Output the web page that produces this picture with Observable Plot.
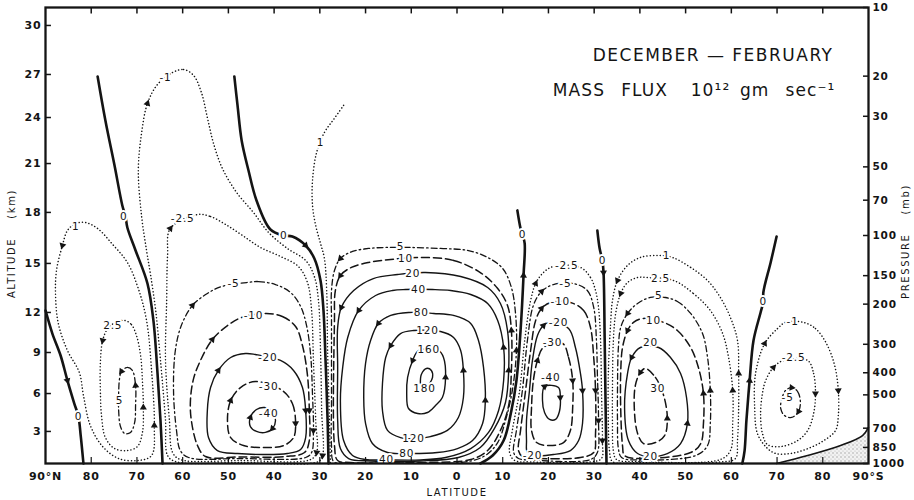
<!DOCTYPE html>
<html><head><meta charset="utf-8">
<script src="https://cdn.jsdelivr.net/npm/d3@7"></script>
<script src="https://cdn.jsdelivr.net/npm/@observablehq/plot@0.6"></script>
<style>
body{margin:0;background:#fff;}
#chart svg text{letter-spacing:0.8px;}
</style>
</head><body><div id="chart"></div>
<script>
// ---- axes ----
const latTicks = [90,80,70,60,50,40,30,20,10,0,-10,-20,-30,-40,-50,-60,-70,-80,-90];
const latTickLabels = ["90°N","80","70","60","50","40","30","20","10","0","10","20","30","40","50","60","70","80","90°S"];
const altTicks = [3,6,9,12,15,18,21,24,27,30];
// where each altitude tick sits on the chart's log-pressure height axis (km)
const altTickZ = [2.25,4.91,7.79,10.60,14.04,17.62,21.05,24.28,27.30,30.74];
const pressureTicks = [10,20,30,50,70,100,150,200,300,400,500,700,850,1000];

// ---- streamfunction isolines, points are [latitude (+N), log-pressure height km] ----
const zeroLines = [
  [[90,10.74],[88.5,9.12],[86.7,7.58],[85.2,5.82],[83.7,4.21],[82.8,3.30],[82.3,1.96],[81.7,0]],
  [[78.6,27.16],[76.9,24.07],[74.9,20.91],[73.2,18.11],[72.5,17.34],[72.1,16.56],[70.3,14.95],[67.7,12.63],[66.4,10.04],[65.5,6.32],[64.85,3.02],[64.4,0]],
  [[48.7,27.16],[48.0,25.13],[47.1,22.67],[45.6,20.56],[43.85,18.46],[40.8,16.42],[37.9,16.0],[36.0,15.93],[33.1,15.30],[31.2,14.39],[29.85,12.84],[29.2,10.74],[28.75,7.23],[28.3,3.02],[28.1,0]],
  [[-13.2,17.76],[-13.9,16.49],[-14.3,16.07],[-14.8,15.44],[-14.55,13.19],[-13.9,9.33],[-13.0,5.82],[-11.9,3.72],[-10.2,1.61],[-7.8,0.56],[-5.1,0]],
  [[-30.7,16.35],[-31.2,15.09],[-31.8,14.25],[-32.05,13.40],[-32.3,8.63],[-32.5,4.07],[-32.7,0]],
  [[-69.9,15.93],[-68.6,14.11],[-67.0,12.0],[-67.0,11.37],[-66.4,10.60],[-64.85,8.63],[-64.0,5.82],[-63.3,3.02],[-62.9,0.91],[-62.4,0]]
];
// flow arrows on the zero lines: which line, which point, +1 along point order / -1 against
const zeroArrows = [{line:0,i:3,sense:1},{line:2,i:8,sense:1},{line:3,i:4,sense:-1},{line:4,i:3,sense:1},{line:5,i:6,sense:-1}];

const cellArctic = [
  {v:1, pts:[[85.2,16.35],[86.3,15.30],[87.6,13.54],[87.8,11.79],[87.2,9.83],[85.2,7.93],[82.6,6.39],[81.7,4.77],[80.2,2.67],[77.5,1.19],[74.0,0.35],[69.7,0.21],[66.8,0.56],[66.2,2.67],[66.8,6.53],[67.9,10.04],[69.7,12.28],[72.1,14.11],[75.3,15.37],[78.6,16.49],[81.25,16.91],[83.4,16.84]]},
  {v:2.5, pts:[[72.7,10.04],[71.2,9.75],[70.1,8.98],[69.2,7.58],[68.8,5.82],[68.6,3.93],[68.8,2.18],[69.9,1.19],[72.1,0.91],[74.9,1.05],[76.9,1.82],[77.75,3.37],[78.0,5.12],[78.0,7.09],[77.5,8.63],[76.4,9.47],[74.7,9.90]]},
  {v:5, pts:[[73.4,6.46],[72.1,6.74],[71.0,6.53],[70.3,5.47],[70.3,4.07],[70.5,2.88],[71.4,2.18],[72.7,2.11],[73.6,2.60],[74.0,3.72],[74.0,4.98],[73.8,5.97]]}
];

const cellNorth = [
  {v:-1, pts:[[62.2,27.44],[59.8,27.65],[57.6,27.23],[55.9,26.04],[54.6,24.28],[53.25,22.46],[51.3,20.70],[48.2,19.02],[44.5,17.61],[41.2,16.21],[37.1,15.09],[33.1,14.25],[31.2,13.12],[30.3,11.44],[29.85,7.93],[29.6,3.72],[29.4,0.56],[30.3,0.14],[47.35,0.07],[61.6,0.14],[63.3,0.56],[63.75,3.02],[64.85,7.23],[65.9,10.74],[67.0,13.19],[67.9,14.95],[69.0,17.40],[69.7,20.56],[69.0,23.16],[67.7,25.27],[65.5,26.60]]},
  {v:-2.5, pts:[[56.75,17.47],[53.9,17.33],[50.6,16.77],[46.9,16.00],[43.0,15.16],[38.6,14.53],[34.7,13.83],[32.7,12.70],[31.8,10.74],[31.4,7.23],[30.9,3.02],[30.7,0.77],[32.0,0.28],[47.35,0.21],[60.5,0.28],[62.2,0.77],[62.9,3.02],[63.75,7.23],[63.5,11.44],[63.3,14.60],[62.7,16.49]]},
  {v:-5, pts:[[46.0,12.70],[43.4,12.77],[39.7,12.56],[36.4,12.00],[34.2,11.02],[32.9,9.68],[32.0,7.58],[31.6,4.77],[31.4,2.32],[31.8,0.77],[33.1,0.42],[47.35,0.35],[58.7,0.42],[60.5,0.91],[61.35,2.32],[62.0,5.12],[61.6,7.93],[60.3,9.68],[57.85,11.09],[54.6,11.93],[51.5,12.42]]},
  {v:-10, pts:[[41.7,10.53],[38.2,10.32],[35.3,9.61],[33.8,8.28],[32.7,6.18],[32.3,3.72],[32.3,1.61],[33.35,0.77],[37.5,0.49],[47.35,0.46],[55.0,0.49],[56.75,1.26],[58.1,3.02],[58.3,4.42],[57.6,5.97],[55.9,7.37],[53.5,8.70],[50.2,9.68],[47.1,10.25]]},
  {v:-20, pts:[[38.6,7.23],[35.75,6.53],[33.8,5.33],[33.1,3.72],[33.1,1.82],[34.2,0.98],[37.1,0.70],[42.3,0.63],[48.0,0.70],[52.4,0.91],[54.35,1.82],[54.6,3.72],[53.9,5.33],[52.2,6.53],[49.5,7.44],[46.25,7.72],[44.1,7.65]]},
  {v:-30, pts:[[38.2,5.12],[36.0,4.21],[35.3,2.81],[35.75,1.82],[37.9,1.26],[42.3,1.12],[46.7,1.26],[49.5,1.82],[50.2,3.02],[49.5,4.42],[47.35,5.33],[44.1,5.75]]},
  {v:-40, pts:[[39.7,3.02],[40.35,2.46],[41.9,2.18],[43.85,2.25],[45.2,2.60],[45.2,3.23],[43.85,3.79],[42.1,3.93],[40.6,3.72]]}
];

const cellHadley = [
  {v:1, open:true, pts:[[24.8,25.13],[27.0,24.14],[29.0,23.23],[30.7,21.83],[31.6,19.86],[31.6,18.11],[30.9,16.70],[29.85,15.44],[29.0,14.39],[28.5,12.14],[28.3,7.93],[27.9,3.02],[27.7,0.07]]},
  {v:5, pts:[[10.2,15.16],[3.6,15.09],[-2.3,14.95],[-6.7,14.46],[-10.0,13.68],[-11.9,12.35],[-12.8,10.53],[-13.0,7.93],[-12.1,5.12],[-10.6,3.02],[-8.9,1.47],[-6.2,0.56],[-1.9,0.11],[12.35,0.04],[24.4,0.04],[27.0,0.14],[27.45,1.26],[27.45,4.42],[27.45,10.04],[27.45,12.14],[26.8,13.54],[25.5,14.39],[22.85,14.88],[19.35,15.09],[15.6,15.16]]},
  {v:10, pts:[[8.0,14.46],[0.75,14.25],[-5.1,13.40],[-8.9,12.28],[-11.05,11.09],[-11.9,9.33],[-11.9,6.53],[-11.3,4.07],[-9.5,2.32],[-6.7,0.91],[-3.0,0.28],[8.0,0.07],[23.3,0.07],[26.1,0.21],[26.8,1.26],[26.8,10.04],[26.6,12.14],[25.5,13.19],[23.1,13.76],[19.35,14.11],[14.5,14.32]]},
  {v:20, pts:[[6.9,13.40],[-0.8,13.12],[-6.7,12.35],[-9.5,11.23],[-11.05,9.33],[-11.3,6.53],[-10.6,4.28],[-8.2,2.46],[-5.1,1.12],[-0.3,0.42],[8.0,0.18],[18.9,0.18],[23.7,0.35],[25.5,1.05],[26.1,3.02],[26.1,6.74],[26.1,9.54],[25.3,10.95],[22.6,12.14],[18.3,12.98],[13.0,13.26]]},
  {v:40, pts:[[5.35,12.21],[1.4,12.14],[-3.0,11.86],[-6.7,11.23],[-8.9,10.04],[-10.2,8.14],[-10.2,5.82],[-9.1,3.72],[-6.9,2.18],[-3.0,1.05],[2.5,0.42],[8.0,0.25],[15.4,0.25],[20.0,0.28],[22.85,0.56],[24.8,1.61],[25.5,4.42],[25.0,6.74],[23.9,8.84],[21.5,10.74],[17.8,11.79],[14.1,12.14],[11.25,12.21]]},
  {v:80, pts:[[5.1,10.53],[0.75,10.39],[-3.0,9.83],[-4.7,8.63],[-5.8,6.74],[-6.2,4.42],[-5.6,2.81],[-3.4,1.61],[-0.1,1.05],[4.3,0.77],[11.0,0.70],[15.2,0.77],[18.5,1.40],[20.0,2.81],[20.4,4.63],[20.0,7.02],[18.9,8.63],[17.2,9.83],[14.5,10.39],[10.6,10.60]]},
  {v:120, pts:[[3.6,9.26],[0.75,8.84],[-0.8,7.93],[-1.4,6.53],[-1.4,4.63],[-0.3,3.23],[2.1,2.32],[5.8,1.89],[9.5,1.75],[12.35,1.82],[15.2,2.32],[16.3,3.72],[16.3,5.61],[15.6,7.44],[14.5,8.28],[12.35,9.12],[9.5,9.33]]},
  {v:160, pts:[[4.05,7.93],[2.95,7.44],[2.5,6.04],[3.2,4.63],[4.7,4.07],[6.45,3.58],[8.6,3.51],[10.6,3.86],[11.0,4.91],[10.8,6.04],[9.7,7.23],[8.4,7.93]]},
  {v:180, open:true, pts:[[8.0,5.61],[7.8,6.25],[6.7,6.67],[5.6,6.53],[5.35,6.04],[6.0,5.61]]}
];

const cellSouthTropic = [
  {v:-2.5, pts:[[-27.0,13.76],[-29.2,13.05],[-30.3,12.14],[-30.95,10.95],[-31.4,8.63],[-31.6,5.12],[-31.8,1.61],[-31.6,0.35],[-29.2,0.11],[-16.1,0.11],[-12.6,0.21],[-11.5,0.77],[-12.1,2.32],[-13.7,5.12],[-14.8,8.63],[-16.1,11.44],[-17.2,12.63],[-18.9,13.40],[-21.1,13.83]]},
  {v:-5, pts:[[-25.5,12.63],[-28.5,12.14],[-29.9,10.95],[-30.5,8.63],[-30.7,6.32],[-30.95,3.02],[-30.7,0.77],[-29.2,0.28],[-16.1,0.25],[-13.45,0.35],[-12.4,0.77],[-13.0,2.32],[-14.3,5.12],[-15.4,8.63],[-16.7,11.09],[-18.5,12.07],[-21.1,12.56]]},
  {v:-10, pts:[[-24.8,11.30],[-27.7,10.74],[-29.2,9.54],[-29.9,7.44],[-30.3,5.12],[-30.3,2.11],[-29.9,0.77],[-27.0,0.42],[-16.1,0.39],[-14.3,0.49],[-13.45,0.91],[-13.9,2.32],[-15.0,5.12],[-16.1,7.93],[-17.2,10.04],[-18.5,10.88],[-20.5,11.30]]},
  {v:-20, pts:[[-24.4,9.47],[-25.9,8.14],[-27.0,6.32],[-27.45,5.12],[-27.45,2.81],[-26.6,1.61],[-24.8,0.91],[-21.1,0.63],[-17.2,0.56],[-15.4,0.77],[-15.2,1.61],[-15.2,3.02],[-15.85,5.12],[-16.5,7.23],[-17.6,8.98],[-18.9,9.68],[-20.25,9.90]]},
  {v:-30, pts:[[-23.1,8.42],[-24.4,7.44],[-25.3,5.82],[-25.3,3.93],[-24.8,2.32],[-23.3,1.47],[-19.8,1.26],[-17.4,1.47],[-16.3,2.32],[-16.3,3.93],[-16.7,5.82],[-17.6,7.23],[-18.9,8.14]]},
  {v:-40, pts:[[-19.15,5.40],[-18.7,4.42],[-19.15,3.58],[-20.25,3.09],[-21.55,3.09],[-22.4,3.65],[-22.6,4.63],[-22.2,5.33]]}
];

const cellSouthFerrel = [
  {v:1, pts:[[-47.1,14.46],[-51.1,13.76],[-54.8,12.84],[-57.6,11.65],[-59.8,10.25],[-61.35,8.63],[-61.6,6.32],[-61.6,3.93],[-61.35,1.61],[-60.9,0.35],[-57.6,0.11],[-40.1,0.07],[-34.0,0.14],[-33.35,0.91],[-33.1,2.81],[-33.1,6.32],[-33.6,9.83],[-34.0,11.44],[-35.1,12.84],[-37.3,13.90],[-40.1,14.46],[-44.1,14.60]]},
  {v:2.5, pts:[[-47.4,12.84],[-51.7,11.93],[-55.4,10.74],[-58.1,9.12],[-59.4,7.44],[-60.3,5.12],[-60.3,2.81],[-59.8,0.91],[-57.6,0.28],[-40.1,0.14],[-34.9,0.28],[-34.2,0.91],[-34.0,3.02],[-34.0,5.12],[-34.2,8.63],[-34.7,10.53],[-35.8,11.93],[-37.3,12.70],[-39.5,13.05],[-41.9,13.05]]},
  {v:5, pts:[[-45.6,11.65],[-48.2,11.37],[-51.1,10.53],[-53.7,9.12],[-54.8,7.44],[-55.4,5.12],[-55.4,2.81],[-54.8,1.26],[-52.2,0.56],[-40.1,0.25],[-36.0,0.42],[-35.3,1.05],[-35.1,3.02],[-35.1,5.12],[-35.3,8.14],[-35.8,9.54],[-37.3,10.53],[-39.5,11.23],[-42.3,11.65]]},
  {v:10, pts:[[-45.2,9.90],[-48.2,9.33],[-51.1,8.14],[-52.8,6.74],[-53.9,4.91],[-53.9,2.81],[-53.3,1.40],[-51.1,0.77],[-40.1,0.35],[-36.65,0.56],[-36.2,1.26],[-35.8,3.93],[-35.8,6.32],[-36.2,8.14],[-37.3,9.33],[-38.6,9.90],[-40.8,10.18]]},
  {v:20, pts:[[-44.1,8.14],[-46.7,7.44],[-48.9,6.32],[-50.2,4.63],[-50.4,2.81],[-48.9,1.40],[-46.0,0.70],[-42.3,0.49],[-39.5,0.70],[-37.5,1.61],[-36.65,3.93],[-37.3,6.32],[-38.2,7.44],[-40.1,8.14]]},
  {v:30, pts:[[-41.2,6.67],[-43.4,6.04],[-45.2,4.77],[-46.0,3.16],[-45.4,1.96],[-43.4,1.47],[-40.8,1.40],[-39.5,2.11],[-38.8,3.72],[-39.0,5.47],[-40.1,6.39]]}
];

const cellAntarctic = [
  {v:-1, pts:[[-75.8,9.90],[-78.4,9.47],[-80.8,8.42],[-82.6,6.88],[-83.4,5.12],[-83.4,3.37],[-82.8,2.32],[-79.9,1.54],[-76.2,0.98],[-72.9,0.70],[-69.7,0.70],[-67.7,1.12],[-65.7,2.11],[-65.1,3.93],[-65.3,6.32],[-67.3,8.42],[-70.1,9.47],[-71.85,9.90]]},
  {v:-2.5, pts:[[-76.7,7.23],[-78.0,6.32],[-78.4,4.91],[-78.0,3.51],[-76.7,2.32],[-74.5,1.61],[-70.8,1.19],[-67.9,1.33],[-66.8,2.11],[-66.4,3.51],[-66.8,4.91],[-67.5,5.82],[-69.2,6.74],[-71.4,7.23]]},
  {v:-5, pts:[[-73.2,5.33],[-74.5,5.05],[-75.1,4.35],[-74.7,3.65],[-73.2,3.23],[-71.6,3.37],[-70.8,3.86],[-71.0,4.49],[-71.85,5.12]]}
];

// Antarctic surface (ground below is stippled)
const antarcticSurface = [[-69.9,0.0],[-76.7,0.56],[-83.9,1.26],[-88.7,1.96],[-90,2.53]];

// isoline labels as placed on the figure
const contourLabels = [
  {t:"0",lat:82.8,z:3.30},{t:"1",lat:83.4,z:16.63},{t:"2.5",lat:75.3,z:9.68},{t:"5",lat:73.8,z:4.42},
  {t:"0",lat:72.9,z:17.33},
  {t:"-1",lat:63.75,z:27.09},{t:"-2.5",lat:60.0,z:17.19},{t:"-5",lat:48.9,z:12.63},{t:"-10",lat:44.5,z:10.39},{t:"-20",lat:41.4,z:7.44},{t:"-30",lat:41.2,z:5.40},{t:"-40",lat:41.2,z:3.51},
  {t:"0",lat:37.9,z:16.0},
  {t:"1",lat:29.85,z:22.53},{t:"5",lat:12.35,z:15.23},{t:"10",lat:11.25,z:14.39},{t:"20",lat:9.7,z:13.33},{t:"40",lat:8.4,z:12.21},{t:"80",lat:7.8,z:10.60},{t:"120",lat:6.45,z:9.33},{t:"160",lat:6.2,z:8.00},{t:"180",lat:7.1,z:5.26},{t:"120",lat:9.5,z:1.75},{t:"80",lat:11.0,z:0.70},{t:"40",lat:15.4,z:0.25},
  {t:"0",lat:-14.3,z:16.07},
  {t:"-2.5",lat:-24.0,z:13.90},{t:"-5",lat:-23.7,z:12.63},{t:"-10",lat:-22.6,z:11.37},{t:"-20",lat:-22.2,z:9.90},{t:"-30",lat:-20.9,z:8.49},{t:"-40",lat:-20.5,z:6.04},{t:"-20",lat:-16.5,z:0.56},
  {t:"0",lat:-31.8,z:14.25},
  {t:"1",lat:-45.8,z:14.60},{t:"2.5",lat:-44.5,z:12.98},{t:"5",lat:-44.1,z:11.79},{t:"10",lat:-43.0,z:10.04},{t:"20",lat:-42.3,z:8.49},{t:"30",lat:-43.9,z:5.26},{t:"20",lat:-42.3,z:0.49},
  {t:"0",lat:-67.0,z:11.37},
  {t:"-1",lat:-73.4,z:9.97},{t:"-2.5",lat:-73.6,z:7.44},{t:"-5",lat:-72.3,z:4.63}
];

// ---- build ----
const ink = "#141414";
const ZP = p => 16 * Math.log10(1000 / p); // pressure -> log-pressure height used by the vertical axis
const pressureZ = pressureTicks.map(ZP);
const pLabel = new Map(pressureZ.map((z, i) => [z, String(pressureTicks[i])]));
const altLabel = new Map(altTickZ.map((z, i) => [z, String(altTicks[i])]));
const latLabel = new Map(latTicks.map((l, i) => [l, latTickLabels[i]]));

function lineStyle(v) {
  const a = Math.abs(v);
  if (a === 0) return {strokeWidth: 2.6};
  if (a <= 2.5) return {strokeWidth: 1.5, strokeDasharray: "0.1 3.2", strokeLinecap: "round"};
  if (a === 5) return {strokeWidth: 1.3, strokeDasharray: "6 3 1.5 3"};
  if (a === 10 || a === 30) return {strokeWidth: 1.5, strokeDasharray: "8 4"};
  return {strokeWidth: 1.4};
}
const X = d => d[0], Y = d => d[1];
const cells = [cellArctic, cellNorth, cellHadley, cellSouthTropic, cellSouthFerrel, cellAntarctic].flat();

const base = {
  width: 914, height: 500,
  marginLeft: 45, marginRight: 46, marginTop: 7, marginBottom: 37,
  x: {domain: [90, -90]},
  y: {domain: [0, 32]},
  style: {fontFamily: "DejaVu Sans", fontSize: "11px", color: ink, background: "#fff", overflow: "visible", whiteSpace: "pre"}
};

// first pass only to obtain the chart's own scales (for arrow directions)
const probe = Plot.plot({...base, marks: [Plot.frame()]});
const sxObj = probe.scale("x"), syObj = probe.scale("y");
const sx = sxObj.apply ? v => sxObj.apply(v) : d3.scaleLinear(sxObj.domain, sxObj.range);
const sy = syObj.apply ? v => syObj.apply(v) : d3.scaleLinear(syObj.domain, syObj.range);

const labelPx = contourLabels.map(l => [sx(l.lat), sy(l.z)]);
const nearLabel = ([x, y]) => labelPx.some(([lx, ly]) => Math.abs(lx - x) < 13 && Math.abs(ly - y) < 9);

const arrows = [];
const angleOf = (a, b, s) => Math.atan2((b[0] - a[0]) * s, -(b[1] - a[1]) * s) * 180 / Math.PI;
for (const c of cells) {
  if (c.open) continue;
  const P = c.pts.map(([la, z]) => [sx(la), sy(z)]);
  const n = P.length;
  let A = 0;
  for (let i = 0; i < n; i++) { const [x1, y1] = P[i], [x2, y2] = P[(i + 1) % n]; A += x1 * y2 - x2 * y1; }
  // positive cells turn anticlockwise on the page, negative cells clockwise
  const s = ((A > 0) === (c.v < 0)) ? 1 : -1;
  const pick = f => { let best = -1; for (let i = 0; i < n; i++) if (!nearLabel(P[i]) && (best < 0 || f(P[i]) > f(P[best]))) best = i; return best; };
  for (const i of [pick(([x, y]) => -x - 0.6 * y), pick(([x]) => x)]) {
    if (i < 0) continue;
    arrows.push({lat: c.pts[i][0], z: c.pts[i][1], angle: angleOf(P[(i - 1 + n) % n], P[(i + 1) % n], s)});
  }
}
for (const za of zeroArrows) {
  const L = zeroLines[za.line], P = L.map(([la, z]) => [sx(la), sy(z)]);
  arrows.push({lat: L[za.i][0], z: L[za.i][1], angle: angleOf(P[za.i - 1], P[za.i + 1], za.sense)});
}

const isoMarks = cells.map(c => Plot.line(c.pts, {x: X, y: Y, curve: c.open ? "catmull-rom" : "catmull-rom-closed", stroke: ink, ...lineStyle(c.v)}));
const zeroMarks = zeroLines.map(pts => Plot.line(pts, {x: X, y: Y, curve: "catmull-rom", stroke: ink, ...lineStyle(0)}));
const innerLat = latTicks.slice(1, -1);

const chart = Plot.plot({
  ...base,
  marks: [
    Plot.areaY(antarcticSurface, {x: X, y: Y, fill: "url(#stipple)", curve: "catmull-rom"}),
    ...isoMarks,
    ...zeroMarks,
    Plot.line(antarcticSurface, {x: X, y: Y, stroke: ink, strokeWidth: 1.6, curve: "catmull-rom"}),
    Plot.dot(arrows, {x: "lat", y: "z", rotate: "angle", symbol: "triangle", r: 2.6, fill: ink, stroke: "none"}),
    Plot.text(contourLabels, {x: "lat", y: "z", text: "t", fill: ink, stroke: "#fff", strokeWidth: 4, fontSize: 10.5}),
    // inward ticks
    Plot.ruleY(altTickZ, {y: d => d, x1: 90, x2: 88.7, stroke: ink, strokeWidth: 1.5}),
    Plot.ruleY(pressureZ, {y: d => d, x1: -90, x2: -88.9, stroke: ink, strokeWidth: 1.5}),
    Plot.ruleX(innerLat, {x: d => d, y1: 32, y2: 31.55, stroke: ink, strokeWidth: 1.5}),
    Plot.ruleX(innerLat, {x: d => d, y1: 0, y2: 0.42, stroke: ink, strokeWidth: 1.2}),
    Plot.frame({stroke: ink, strokeWidth: 2.3}),
    Plot.axisX({ticks: latTicks, tickFormat: d => latLabel.get(d), tickSize: 0, tickPadding: 9, label: null, fontSize: 11, fontWeight: "bold"}),
    Plot.axisY({anchor: "left", ticks: altTickZ, tickFormat: d => altLabel.get(d), tickSize: 0, tickPadding: 4, label: null, fontSize: 11, fontWeight: "bold"}),
    Plot.axisY({anchor: "right", ticks: pressureZ, tickFormat: d => pLabel.get(d), tickSize: 0, tickPadding: 4, label: null, fontSize: 10.5, fontWeight: "bold"}),
    Plot.text(["LATITUDE"], {frameAnchor: "bottom", dy: 29, lineAnchor: "middle", text: d => d, fontSize: 10, fill: ink}),
    Plot.text(["ALTITUDE    (km)"], {frameAnchor: "left", dx: -34, dy: 8, rotate: -90, textAnchor: "middle", text: d => d, fontSize: 10, fill: ink}),
    Plot.text(["PRESSURE    (mb)"], {frameAnchor: "right", dx: 37, dy: 6, rotate: -90, textAnchor: "middle", text: d => d, fontSize: 10, fill: ink}),
    Plot.text(["DECEMBER — FEBRUARY"], {frameAnchor: "top-right", dx: -35, dy: 41, textAnchor: "end", text: d => d, fontSize: 17, fill: ink}),
    Plot.text(["MASS\u2002 FLUX\u2002  10¹²\u2002gm\u2002 sec⁻¹"], {frameAnchor: "top-right", dx: -33, dy: 76, textAnchor: "end", text: d => d, fontSize: 17, fill: ink})
  ]
});

d3.select(chart).insert("defs", ":first-child").html(
  '<pattern id="stipple" width="4" height="4" patternUnits="userSpaceOnUse">' +
  '<rect width="4" height="4" fill="#f2f2f2"/>' +
  '<circle cx="1" cy="1" r="0.7" fill="#9a9a9a"/><circle cx="3" cy="3" r="0.6" fill="#b5b5b5"/></pattern>'
);
d3.select(chart).selectAll("text").filter(function () {
  return this.textContent.startsWith("DECEMBER");
}).style("letter-spacing", "1.5px");
d3.select(chart).selectAll("text").filter(function () {
  return this.textContent.startsWith("MASS");
}).style("letter-spacing", "1.1px");
d3.select(chart).selectAll("text").filter(function () {
  const t = this.textContent;
  return t.startsWith("ALTITUDE") || t.startsWith("PRESSURE") || t.startsWith("LATITUDE");
}).style("letter-spacing", "1.6px");
document.getElementById("chart").append(chart);
</script>
</body></html>
